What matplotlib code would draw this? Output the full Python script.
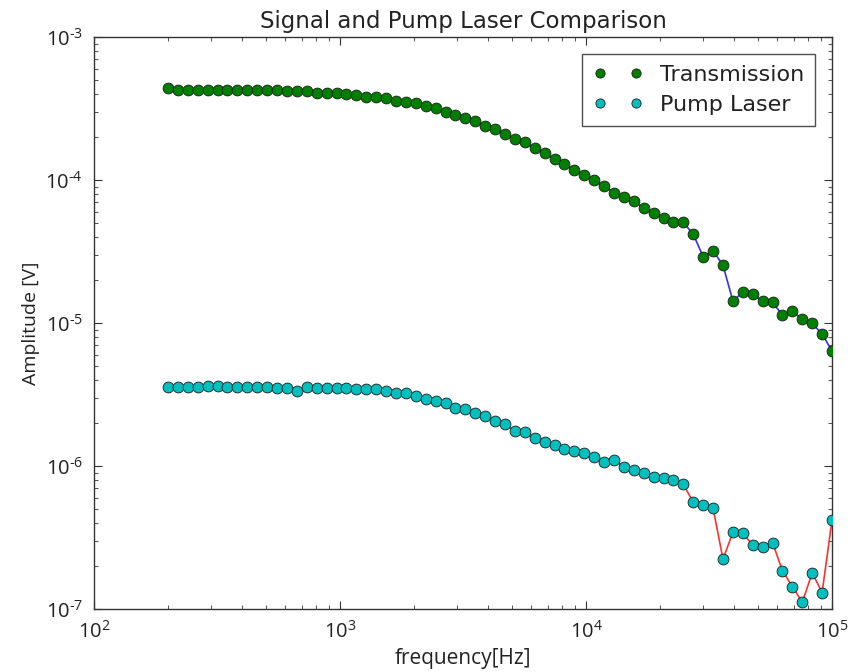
import matplotlib
matplotlib.use("Agg")
import matplotlib.pyplot as plt
from matplotlib.ticker import LogLocator, FuncFormatter, NullFormatter
import numpy as np

plt.rcParams["mathtext.fontset"] = "custom"
plt.rcParams["mathtext.rm"] = "Open Sans"
plt.rcParams["mathtext.it"] = "Open Sans:italic"
plt.rcParams["mathtext.bf"] = "Open Sans:bold"
plt.rcParams["axes.unicode_minus"] = False

# Sweep frequencies [Hz]
frequency = [
    200, 219.5, 240.8, 264.2, 289.9, 318.0, 348.9, 382.8, 420.0, 460.8,
    505.6, 554.7, 608.6, 667.7, 732.5, 803.7, 881.8, 967.9, 1062, 1165,
    1279, 1403, 1539, 1689, 1853, 2033, 2231, 2447, 2685, 2946,
    3232, 3546, 3891, 4269, 4684, 5140, 5638, 6186, 6788, 7448,
    8172, 8966, 9838, 10794, 11843, 12994, 14257, 15643, 17164, 18831,
    20662, 22670, 24874, 27292, 29944, 32854, 36050, 39554, 43397, 47617,
    52245, 57320, 62893, 69007, 75713, 83067, 91142, 100000,
]

# Transmission amplitude [V]
transmission = [
    4.40e-4, 4.30e-4, 4.30e-4, 4.29e-4, 4.29e-4, 4.29e-4, 4.28e-4, 4.28e-4, 4.28e-4, 4.27e-4,
    4.27e-4, 4.26e-4, 4.19e-4, 4.19e-4, 4.19e-4, 4.10e-4, 4.10e-4, 4.10e-4, 4.01e-4, 3.95e-4,
    3.84e-4, 3.81e-4, 3.75e-4, 3.58e-4, 3.51e-4, 3.46e-4, 3.32e-4, 3.19e-4, 3.02e-4, 2.88e-4,
    2.74e-4, 2.60e-4, 2.41e-4, 2.27e-4, 2.12e-4, 1.94e-4, 1.84e-4, 1.67e-4, 1.54e-4, 1.41e-4,
    1.30e-4, 1.18e-4, 1.09e-4, 1.005e-4, 9.05e-5, 8.2e-5, 7.7e-5, 7.13e-5, 6.37e-5, 5.93e-5,
    5.48e-5, 5.13e-5, 5.08e-5, 4.19e-5, 2.92e-5, 3.22e-5, 2.54e-5, 1.43e-5, 1.65e-5, 1.60e-5,
    1.43e-5, 1.40e-5, 1.14e-5, 1.21e-5, 1.07e-5, 1.00e-5, 8.4e-6, 6.4e-6,
]

# Pump laser amplitude [V]
pump = [
    3.57e-6, 3.57e-6, 3.60e-6, 3.60e-6, 3.64e-6, 3.64e-6, 3.60e-6, 3.60e-6, 3.60e-6, 3.60e-6,
    3.60e-6, 3.55e-6, 3.51e-6, 3.38e-6, 3.57e-6, 3.55e-6, 3.55e-6, 3.55e-6, 3.55e-6, 3.47e-6,
    3.47e-6, 3.47e-6, 3.37e-6, 3.27e-6, 3.25e-6, 3.10e-6, 2.94e-6, 2.86e-6, 2.76e-6, 2.54e-6,
    2.50e-6, 2.37e-6, 2.25e-6, 2.08e-6, 1.97e-6, 1.77e-6, 1.73e-6, 1.57e-6, 1.47e-6, 1.41e-6,
    1.32e-6, 1.27e-6, 1.245e-6, 1.16e-6, 1.08e-6, 1.10e-6, 9.94e-7, 9.42e-7, 9.02e-7, 8.46e-7,
    8.32e-7, 8.02e-7, 7.48e-7, 5.60e-7, 5.36e-7, 5.08e-7, 2.24e-7, 3.46e-7, 3.40e-7, 2.82e-7,
    2.74e-7, 2.92e-7, 1.86e-7, 1.44e-7, 1.12e-7, 1.80e-7, 1.31e-7, 4.21e-7,
]

fig = plt.figure(figsize=(8.49, 6.72), dpi=100, facecolor="white")
ax = fig.add_axes([0.1107, 0.0933, 0.8693, 0.8512])

green = (0.0, 0.5, 0.0)
cyan = (0.0, 0.75, 0.75)

ax.plot(frequency, transmission, "-", color="#3030ff", lw=1.2, zorder=2)
ax.plot(frequency, pump, "-", color="#ff3030", lw=1.2, zorder=2)
ax.plot(frequency, transmission, "o", color=green, ms=7.8, mec="#1a1a1a", mew=0.6,
        label="Transmission", zorder=3)
ax.plot(frequency, pump, "o", color=cyan, ms=7.8, mec="#1a1a1a", mew=0.6,
        label="Pump Laser", zorder=3)

ax.set_xscale("log")
ax.set_yscale("log")
ax.set_xlim(1e2, 1e5)
ax.set_ylim(1e-7, 1e-3)


def decade_label(value, pos):
    """Power-of-ten label with a plain hyphen for negative exponents."""
    exp = int(np.round(np.log10(value)))
    if exp < 0:
        return r"$\mathregular{10^{\text{-}%d}}$" % (-exp)
    return r"$\mathregular{10^{%d}}$" % exp


for axis in (ax.xaxis, ax.yaxis):
    axis.set_major_locator(LogLocator(base=10))
    axis.set_minor_locator(LogLocator(base=10, subs=range(2, 10)))
    axis.set_major_formatter(FuncFormatter(decade_label))
    axis.set_minor_formatter(NullFormatter())

ax.tick_params(which="both", direction="in", top=True, right=True, color="#333333")
ax.tick_params(which="major", length=6, width=0.8, labelsize=14.5, pad=8)
ax.tick_params(which="minor", length=3, width=0.6)
for lab in ax.get_xticklabels() + ax.get_yticklabels():
    lab.set_fontfamily("Open Sans")
    lab.set_color("#222222")

for sp in ax.spines.values():
    sp.set_linewidth(1.0)
    sp.set_color("#333333")

ax.set_title("Signal and Pump Laser Comparison", fontsize=16.5, color="#222222",
             family="DejaVu Sans", pad=7)
ax.set_xlabel("frequency[Hz]", fontsize=15, family="Open Sans", color="#222222", labelpad=4)
ax.set_ylabel("Amplitude [V]", fontsize=14, family="Open Sans", color="#222222", labelpad=4)

leg = ax.legend(loc="upper right", numpoints=2, fancybox=False, markerscale=0.85,
                prop={"family": "DejaVu Sans", "size": 16}, borderpad=0.5,
                handlelength=2.2, handletextpad=0.8, borderaxespad=0.75, labelspacing=0.45)
leg.get_frame().set_edgecolor("#222222")
leg.get_frame().set_linewidth(1.0)
for t in leg.get_texts():
    t.set_color("#222222")

fig.savefig("out.png", dpi=100, facecolor="white")
